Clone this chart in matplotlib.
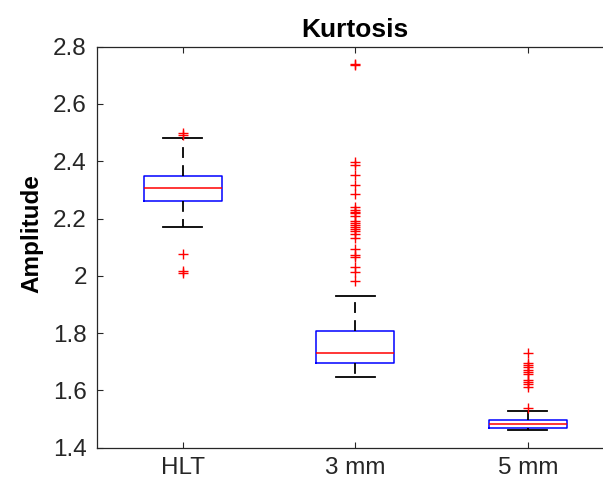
import matplotlib
matplotlib.use("Agg")
import matplotlib.pyplot as plt

plt.rcParams["font.family"] = ["Liberation Sans", "DejaVu Sans"]

# ==========================================================
# Data
# ==========================================================

groups = ["HLT", "3 mm", "5 mm"]

whislo = [2.169, 1.648, 1.462]
q1 = [2.260, 1.697, 1.468]
med = [2.307, 1.732, 1.481]
q3 = [2.350, 1.807, 1.497]
whishi = [2.480, 1.931, 1.529]

fliers_hlt = [2.490, 2.498, 2.075, 2.010, 2.017]
fliers_3mm = [2.735, 2.741, 2.396, 2.387, 2.352, 2.317, 2.285, 2.241, 2.229,
              2.223, 2.218, 2.209, 2.192, 2.183, 2.178, 2.171, 2.165, 2.157,
              2.145, 2.131, 2.093, 2.073, 2.066, 2.031, 2.012, 1.982]
fliers_5mm = [1.729, 1.697, 1.689, 1.680, 1.672, 1.666, 1.657, 1.636, 1.631,
              1.621, 1.613, 1.537]

yticks = [1.4, 1.6, 1.8, 2.0, 2.2, 2.4, 2.6, 2.8]
ytick_labels = ["1.4", "1.6", "1.8", "2", "2.2", "2.4", "2.6", "2.8"]

# ==========================================================
# Plot
# ==========================================================

fliers = [fliers_hlt, fliers_3mm, fliers_5mm]
stats = []
for i, name in enumerate(groups):
    stats.append({
        "label": name,
        "whislo": whislo[i],
        "q1": q1[i],
        "med": med[i],
        "q3": q3[i],
        "whishi": whishi[i],
        "fliers": fliers[i],
    })

fig = plt.figure(figsize=(6.03, 4.86), dpi=100)
ax = fig.add_axes([96.5 / 603, 38.3 / 486, 517.5 / 603, 401 / 486])

axis_gray = (0.15, 0.15, 0.15)

ax.bxp(
    stats,
    positions=[1, 2, 3],
    widths=0.455,
    showfliers=True,
    boxprops=dict(color="blue", linewidth=1.1),
    medianprops=dict(color="red", linewidth=1.1),
    whiskerprops=dict(color="black", linewidth=1.3, linestyle=(0, (6, 4))),
    capprops=dict(color="black", linewidth=1.3),
    flierprops=dict(marker="+", markeredgecolor="red", markersize=7,
                    markeredgewidth=1.0, linestyle="none"),
)

ax.set_xlim(0.5, 3.5)
ax.set_ylim(1.4, 2.8)
ax.set_xticks([1, 2, 3])
ax.set_xticklabels(groups)
ax.set_yticks(yticks)
ax.set_yticklabels(ytick_labels)

ax.tick_params(axis="both", direction="in", length=4.5, width=0.8,
               colors=axis_gray, labelsize=17.5, top=True, right=True)
ax.tick_params(axis="x", pad=7)
ax.tick_params(axis="y", pad=7)
for s in ax.spines.values():
    s.set_color(axis_gray)
    s.set_linewidth(0.9)

ax.set_title("Kurtosis", fontsize=19, fontweight="bold", pad=7)
ax.set_ylabel("Amplitude", fontsize=17.5, fontweight="bold", labelpad=7)
# label sits a little above the axes centre in the original
ax.yaxis.label.set_y(0.533)

fig.savefig("out.png", dpi=100)
